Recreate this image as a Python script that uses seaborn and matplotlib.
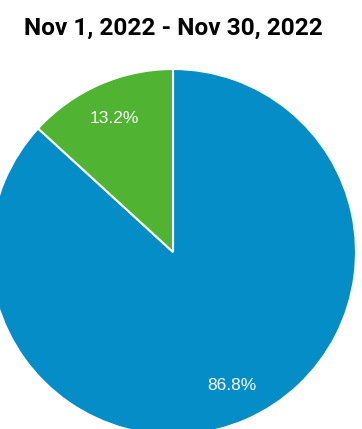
import matplotlib
matplotlib.use("Agg")
import matplotlib.pyplot as plt
import seaborn as sns

title = "Nov 1, 2022 - Nov 30, 2022"
categories = ["Blue", "Green"]
values = [86.8, 13.2]
colors = ["#058DC7", "#50B432"]

sns.set_theme(style="white")
plt.rcParams['font.family'] = ['Roboto', 'DejaVu Sans']
sns.set_palette(colors)

W, H = 362, 429
fig = plt.figure(figsize=(W / 100, H / 100), dpi=100)
ax = fig.add_axes([0, 0, 1, 1])

cx, cy, r = 173, H - 252, 183
wedges, texts, autotexts = ax.pie(
    values, colors=sns.color_palette(), startangle=90, counterclock=False,
    center=(cx, cy), radius=r, autopct="%.1f%%", pctdistance=0.8,
    wedgeprops=dict(edgecolor="white", linewidth=1.5),
    textprops=dict(color="white", fontsize=12.5, fontweight="normal",
                   family=["Liberation Sans", "DejaVu Sans"]),
    frame=True,
)
ax.set_xlim(0, W)
ax.set_ylim(0, H)
ax.set_aspect("equal")
ax.axis("off")

fig.text(173 / W, 1 - 28 / H, title, ha="center", va="center",
         fontsize=17.6, fontweight="bold", color="black")

fig.savefig("out.png", dpi=100)
